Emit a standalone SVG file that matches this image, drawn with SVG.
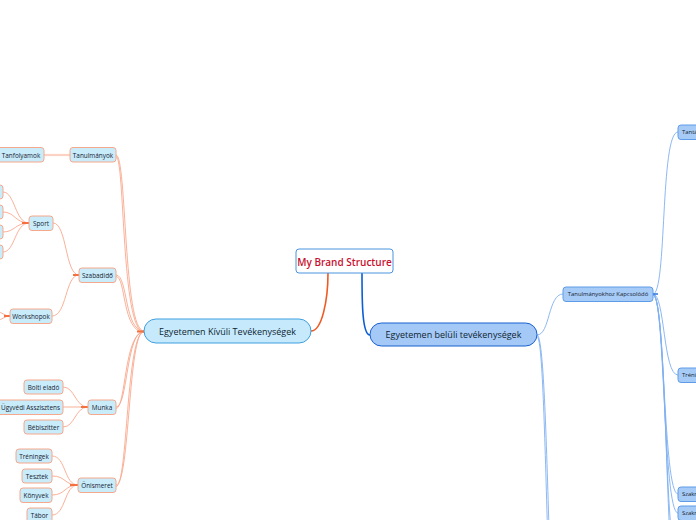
<svg xmlns="http://www.w3.org/2000/svg" width="696" height="520" viewBox="0 0 696 520">
<style>
text{font-family:"Open Sans","Noto Sans","Liberation Sans",sans-serif;text-anchor:middle;dominant-baseline:central}
.ln{fill:none;stroke:#f8a88d;stroke-width:0.9}
.lnd{fill:none;stroke:#f4713f;stroke-width:2}
.rn{fill:none;stroke:#7fb0f0;stroke-width:0.9}
.lbox{fill:#c9ecfb;stroke:#f6a88c;stroke-width:1}
.rbox{fill:#a7cbf7;stroke:#5f9ce8;stroke-width:1}
.st{font-size:6.4px;fill:#15222f}
.rt{font-size:5.9px;fill:#15222f}
</style>
<g id="connectors">
<path d="M328 273 C328 300, 322 331, 311 331" fill="none" stroke="#f05a22" stroke-width="1.6"/>
<path d="M362 273 C362 300, 362 335, 370 335" fill="none" stroke="#0b5fd3" stroke-width="1.6"/>
<path class="ln" d="M116 155 C127 155, 123 331, 144 331"/>
<path class="ln" d="M116 156.5 C125 156.5, 121 332, 144 332"/>
<path class="ln" d="M116 275 C128 275, 124 331, 144 331"/>
<path class="ln" d="M116 276.5 C126 276.5, 122 332, 144 332"/>
<path class="ln" d="M116 407 C128 407, 126 331, 144 331"/>
<path class="ln" d="M116 408.5 C126 408.5, 124 332, 144 332"/>
<path class="ln" d="M116 485 C130 485, 128 331, 144 331"/>
<path class="ln" d="M116 486.5 C128 486.5, 126 332, 144 332"/>
<path class="lnd" d="M137 331.5 L144 331.5" stroke-width="1.4"/>
<path d="M70 155 L44 155" fill="none" stroke="#fbd2c3" stroke-width="2.2"/>
<path class="ln" d="M79 275 C65 275, 67 223, 53 223"/>
<path class="ln" d="M79 275 C65 275, 67 316, 52 316"/>
<path class="lnd" d="M73 275 L79 275" stroke-width="1.2"/>
<path class="ln" d="M29 223 C15 223, 15 192, 3 192"/>
<path class="ln" d="M29 223 C15 223, 15 212, 3 212"/>
<path class="ln" d="M29 223 C15 223, 15 232, 3 232"/>
<path class="ln" d="M29 223 C15 223, 15 252, 3 252"/>
<path class="lnd" d="M22 223 L29 223"/>
<path class="ln" d="M10 316 C4 316, 3 312, -3 312"/>
<path class="ln" d="M10 316 C4 316, 3 320, -3 320"/>
<path class="lnd" d="M4 316 L10 316" stroke="#f05a22"/>
<path class="ln" d="M88 407 C75 407, 75 387, 63 387"/>
<path class="ln" d="M88 407 L63 407"/>
<path class="ln" d="M88 407 C75 407, 75 427, 63 427"/>
<path class="lnd" d="M81 407 L88 407" stroke-width="1.2"/>
<path class="ln" d="M78 485 C64 485, 66 456, 52 456"/>
<path class="ln" d="M78 485 C64 485, 66 476, 52 476"/>
<path class="ln" d="M78 485 C64 485, 66 495, 52 495"/>
<path class="ln" d="M78 485 C64 485, 66 515, 52 515"/>
<path class="lnd" d="M70 485 L78 485"/>
<path class="rn" d="M537 335 C550 335, 548 294, 563 294"/>
<path class="rn" d="M537 335 C550 335, 548 740, 563 740"/>
<path class="rn" d="M537 336.5 C548 336.5, 546 740, 563 741"/>
<path class="rn" d="M653 294 C667 294, 660 132, 678 132"/>
<path class="rn" d="M653 294 C665 294, 663 375, 678 375"/>
<path class="rn" d="M653 294 C665 294, 663 494, 678 494"/>
<path class="rn" d="M653 294 C665 294, 663 513, 678 513"/>
<path class="rn" d="M653 295 C667 295, 664 560, 678 560"/>
<path class="rn" d="M653 295 C668 295, 665 600, 678 600"/>
<path d="M653 294 L658 294" fill="none" stroke="#1f6ad8" stroke-width="1.4"/>
</g>
<g id="root">
<rect x="296" y="249" width="97" height="24" rx="3" fill="#fff" stroke="#4a94e0" stroke-width="1"/>
<text x="344.5" y="261.5" font-size="10" fill="#c8102e" font-weight="600">My Brand Structure</text>
</g>
<g id="kivuli">
<rect x="144" y="319" width="167" height="24" rx="12" fill="#c6eafb" stroke="#3f9fe0" stroke-width="1"/>
<text x="227.5" y="331.5" font-size="9" fill="#0d1f33" font-weight="500">Egyetemen Kívüli Tevékenységek</text>
</g>
<g id="beluli">
<rect x="370" y="323" width="167" height="23" rx="11.5" fill="#a5c9f6" stroke="#1760cf" stroke-width="1"/>
<text x="453.5" y="334.8" font-size="9" fill="#0d1f33" font-weight="500">Egyetemen belüli tevékenységek</text>
</g>
<g id="tanulmanyok"><rect class="lbox" x="70" y="147.5" width="46" height="14.5" rx="3"/><text class="st" x="93" y="155">Tanulmányok</text></g>
<g id="tanfolyamok"><rect class="lbox" x="-3" y="147.5" width="47" height="14.5" rx="3"/><text class="st" x="21" y="155">Tanfolyamok</text></g>
<g id="szabadido"><rect class="lbox" x="79" y="268" width="37" height="14.5" rx="3"/><text class="st" x="97.5" y="275.3">Szabadidő</text></g>
<g id="sport"><rect class="lbox" x="29" y="216" width="24" height="14.5" rx="3"/><text class="st" x="41" y="223.3">Sport</text></g>
<g id="sport1"><rect class="lbox" x="-30" y="185" width="33" height="14" rx="3"/></g>
<g id="sport2"><rect class="lbox" x="-30" y="205" width="33" height="14" rx="3"/></g>
<g id="sport3"><rect class="lbox" x="-30" y="225" width="33" height="14" rx="3"/></g>
<g id="sport4"><rect class="lbox" x="-30" y="245" width="33" height="14" rx="3"/></g>
<g id="workshopok"><rect class="lbox" x="10" y="309" width="42" height="14.5" rx="3"/><text class="st" x="31" y="316.3">Workshopok</text></g>
<g id="munka"><rect class="lbox" x="88" y="400" width="28" height="14.5" rx="3"/><text class="st" x="102" y="407.3">Munka</text></g>
<g id="bolti"><rect class="lbox" x="24" y="380" width="39" height="14" rx="3"/><text class="st" x="43.5" y="387">Bolti eladó</text></g>
<g id="ugyvedi"><rect class="lbox" x="-3" y="400" width="66" height="14.5" rx="3"/><text class="st" x="30.5" y="407.3">Ügyvédi Asszisztens</text></g>
<g id="bebiszitter"><rect class="lbox" x="24" y="420" width="39" height="14" rx="3"/><text class="st" x="43.5" y="427">Bébiszitter</text></g>
<g id="onismeret"><rect class="lbox" x="78" y="478" width="38" height="14.5" rx="3"/><text class="st" x="97" y="485.3">Önismeret</text></g>
<g id="treningek"><rect class="lbox" x="16" y="449" width="36" height="14" rx="3"/><text class="st" x="34" y="456">Tréningek</text></g>
<g id="tesztek"><rect class="lbox" x="22" y="469" width="30" height="14" rx="3"/><text class="st" x="37" y="476">Tesztek</text></g>
<g id="konyvek"><rect class="lbox" x="20" y="488" width="32" height="14.5" rx="3"/><text class="st" x="36" y="495.3">Könyvek</text></g>
<g id="tabor"><rect class="lbox" x="27" y="508" width="25" height="14.5" rx="3"/><text class="st" x="39.5" y="515.3">Tábor</text></g>
<g id="kapcsolodo"><rect class="rbox" x="563" y="287" width="90" height="14.5" rx="3"/><text class="rt" x="608" y="294.3">Tanulmányokhoz Kapcsolódó</text></g>
<g id="tanta"><rect class="rbox" x="678" y="125" width="40" height="14.5" rx="3"/><text class="rt" x="682" y="132.3" style="text-anchor:start">Tantárgyak</text></g>
<g id="tren"><rect class="rbox" x="678" y="368" width="40" height="14.5" rx="3"/><text class="rt" x="682" y="375.3" style="text-anchor:start">Tréningek</text></g>
<g id="szak1"><rect class="rbox" x="678" y="487" width="40" height="14.5" rx="3"/><text class="rt" x="682" y="494.3" style="text-anchor:start">Szakmai</text></g>
<g id="szak2"><rect class="rbox" x="678" y="506" width="40" height="14.5" rx="3"/><text class="rt" x="682" y="513.3" style="text-anchor:start">Szakmai</text></g>
</svg>
